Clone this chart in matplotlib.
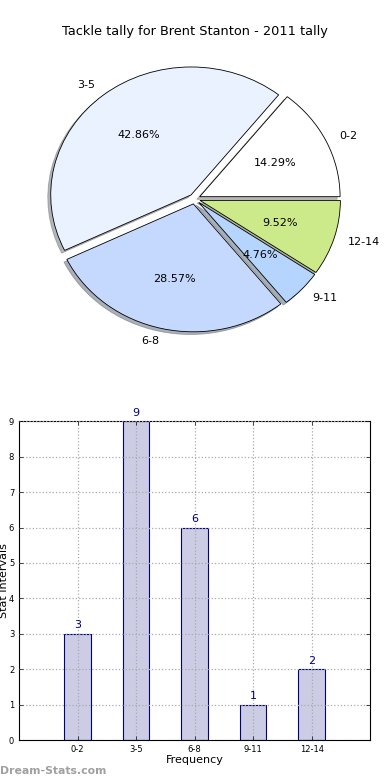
import matplotlib
matplotlib.use("Agg")
import matplotlib.pyplot as plt

title = "Tackle tally for Brent Stanton - 2011 tally"
categories = ["0-2", "3-5", "6-8", "9-11", "12-14"]
counts = [3, 9, 6, 1, 2]
pie_colors = ["#ffffff", "#eaf1ff", "#c5d9ff", "#b5d5ff", "#cdea8a"]
explode = [0.04, 0.04, 0.04, 0.04, 0.04]

fig = plt.figure(figsize=(3.9, 7.8), dpi=100)

ax1 = fig.add_axes([0.049, 0.54, 0.9, 0.41])
wedges, texts, autotexts = ax1.pie(counts, labels=categories, colors=pie_colors,
                                   explode=explode,
                                   shadow={"ox": -0.015, "oy": -0.015, "shade": 0.55},
                                   autopct="%1.2f%%",
                                   startangle=0, counterclock=True,
                                   wedgeprops=dict(edgecolor="black", linewidth=0.6),
                                   textprops=dict(fontsize=8))
ax1.set_aspect("auto")
ax1.set_xlim(-1.25, 1.25)
ax1.set_ylim(-1.25, 1.25)
ax1.set_title(title, fontsize=9.3, pad=3)

ax2 = fig.add_axes([0.049, 0.051, 0.9, 0.409])
x = list(range(len(categories)))
bars = ax2.bar(x, counts, width=0.45, color=(0, 0, 0.5, 0.2), edgecolor="navy", linewidth=0.8)
for xi, c in zip(x, counts):
    ax2.text(xi, c + 0.1, str(c), ha="center", va="bottom", color="navy", fontsize=8)
ax2.set_xlim(-1, 5)
ax2.set_ylim(0, 9)
ax2.set_xticks(x)
ax2.set_xticklabels(categories)
ax2.set_yticks(range(10))
ax2.tick_params(direction="in", labelsize=6, top=True, right=True, length=3, width=0.5)
ax2.grid(True, linestyle=":", color="#aaaaaa", linewidth=0.9)
ax2.set_axisbelow(False)
ax2.set_xlabel("Frequency", fontsize=8, labelpad=1)
ax2.set_ylabel("Stat Intervals", fontsize=8, labelpad=0)

fig.text(0.0, 0.005, "Dream-Stats.com", color="#a0a0a0", fontsize=7.8, fontweight="bold", ha="left", va="bottom")

fig.savefig("out.png", dpi=100)
